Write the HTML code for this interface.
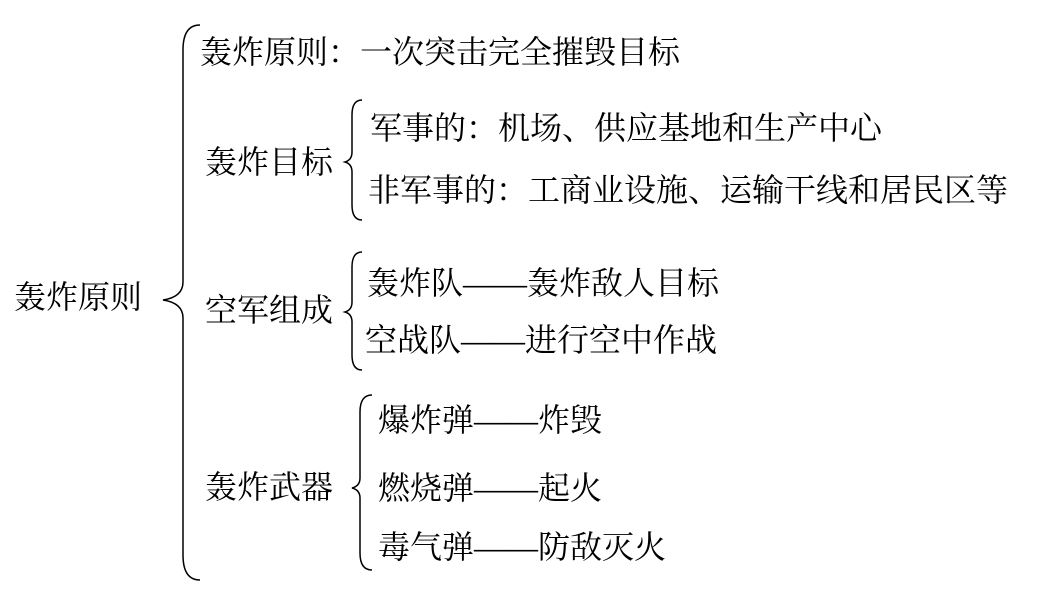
<!DOCTYPE html>
<html><head><meta charset="utf-8"><style>
html,body{margin:0;padding:0;background:#fff;}
svg{display:block}
text{font-family:"Liberation Serif","Noto Serif CJK SC",serif;font-size:32px;fill:#000;dominant-baseline:central}
path{fill:none;stroke:#000;stroke-width:1.5}
</style></head><body>
<svg width="1039" height="598" viewBox="0 0 1039 598">
<text x="14" y="297">轰炸原则</text>
<path d="M200 25 Q183 25 183 50 L183 282 Q183 297 163 300 Q183 303 183 318 L183 555 Q183 580 200 580"/>
<text x="200" y="52">轰炸原则：一次突击完全摧毁目标</text>
<text x="205" y="162">轰炸目标</text>
<path d="M362 100 Q352 100 352 115 L352 152 Q352 160 345 162 Q352 164 352 172 L352 205 Q352 220 362 220"/>
<text x="370" y="128">军事的：机场、供应基地和生产中心</text>
<text x="368" y="190">非军事的：工商业设施、运输干线和居民区等</text>
<text x="205" y="310">空军组成</text>
<path d="M362 252 Q352 252 352 267 L352 302 Q352 310 345 312 Q352 314 352 322 L352 355 Q352 370 362 370"/>
<text x="367" y="283">轰炸队——轰炸敌人目标</text>
<text x="365" y="340">空战队——进行空中作战</text>
<text x="205" y="487">轰炸武器</text>
<path d="M372 395 Q360 395 360 412 L360 478 Q360 486 352 488 Q360 490 360 498 L360 553 Q360 570 372 570"/>
<text x="378" y="420">爆炸弹——炸毁</text>
<text x="378" y="488">燃烧弹——起火</text>
<text x="378" y="547">毒气弹——防敌灭火</text>
</svg>
</body></html>
